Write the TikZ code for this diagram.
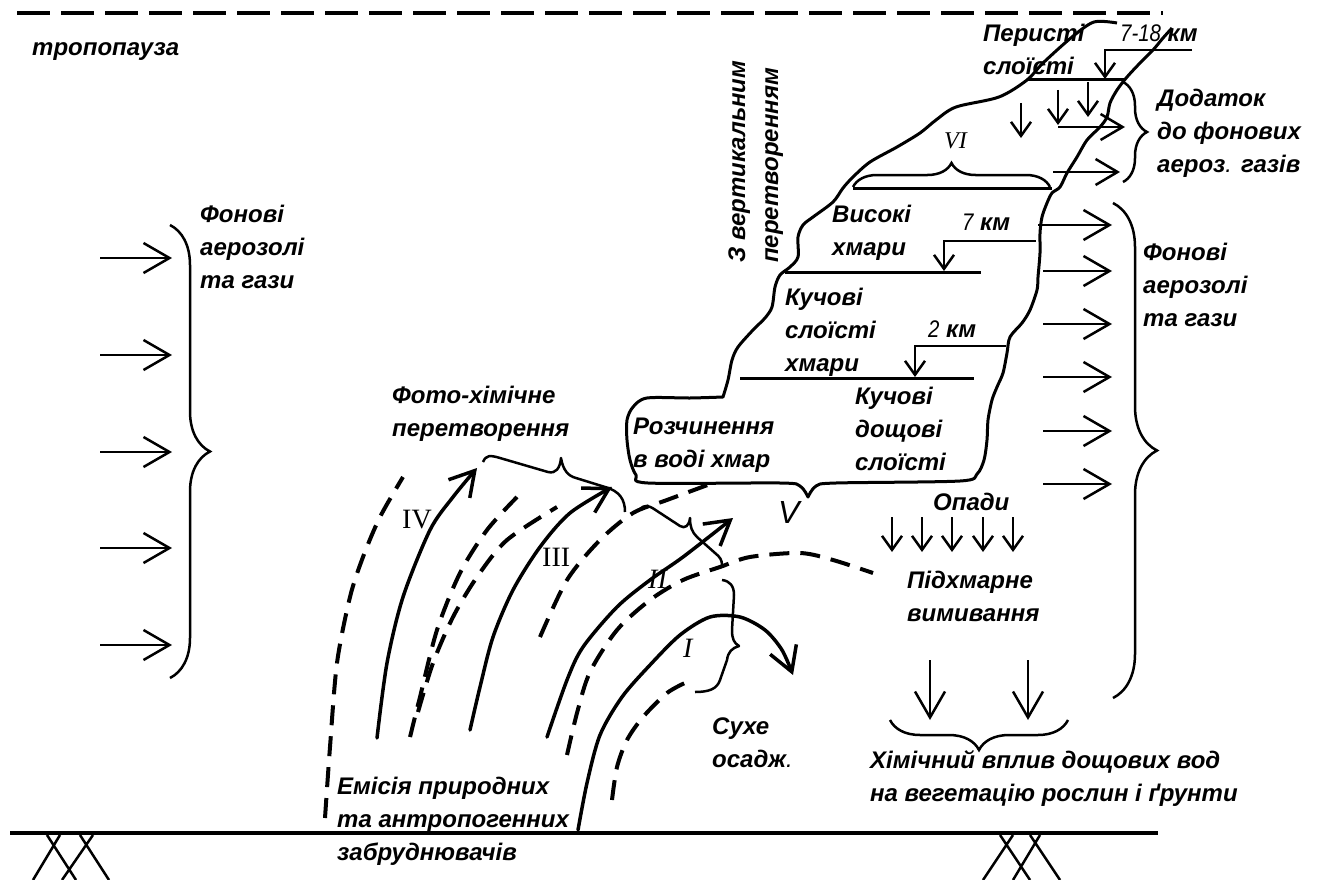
\documentclass[tikz,border=0pt]{standalone}
\usepackage{fontspec}
\setmainfont{Liberation Sans}
\newfontfamily\romfont{Liberation Serif}
\usepackage{tikz}
\usetikzlibrary{arrows.meta, decorations.pathreplacing}

\begin{document}
\begin{tikzpicture}[x=1pt, y=-1pt,
    txt/.style={inner sep=0pt, anchor=base west, align=left,
        font=\fontsize{24}{33}\selectfont\bfseries\itshape},
    rom/.style={inner sep=0pt, anchor=base west,
        font=\fontsize{28}{30}\selectfont\romfont},
    thk/.style={line width=3pt, line join=round},
    arr/.style={line width=2.5pt, -{Straight Barb[length=26pt, width=30pt]}},
    marr/.style={line width=2.5pt, -{Straight Barb[length=22pt, width=26pt]}},
    sarr/.style={line width=2.5pt, -{Straight Barb[length=14pt, width=20pt]}},
    carr/.style={line width=3.5pt, line cap=round, -{Straight Barb[length=24pt, width=28pt]}},
    dsh/.style={line width=4pt, dash pattern=on 20pt off 11pt},
    brc/.style={line width=2.5pt, decorate, decoration={brace, amplitude=#1}},
    lbr/.style={line width=2.5pt, line join=round}]
    \useasboundingbox (0,0) rectangle (1319,880);

    % тропопауза
    \draw[line width=4pt, dash pattern=on 33pt off 11pt] (17,13) -- (1163,13);
    \node[txt] (tropo) at (32,56) {тропопауза};

    % земля
    \draw[line width=4pt] (10,833) -- (1158,833);
    \draw[line width=2.5pt] (33,880) -- (60,835) (47,835) -- (76,880) (62,880) -- (93,835) (80,835) -- (109,880);
    \draw[line width=2.5pt] (983,880) -- (1013,835) (1000,835) -- (1030,880) (1013,880) -- (1040,835) (1030,835) -- (1060,880);

    % фонові аерозолі зліва
    \draw[arr] (100,258) -- (172,258);
    \draw[arr] (100,355) -- (172,355);
    \draw[arr] (100,452) -- (172,452);
    \draw[arr] (100,548) -- (172,548);
    \draw[arr] (100,645) -- (172,645);
    \draw[brc=40pt] (170,225) -- (170,678);
    \node[txt] (fonL) at (200,288) {Фонові\\аерозолі\\та гази};

    % хмара
    \draw[thk] plot[smooth, tension=0.5] coordinates {(1117,23) (1094,22) (1072,37) (1043,63) (1027,80) (999,97) (956,107) (936,120) (920,133) (897,147) (870,162) (853,177) (843,188) (833,202) (813,217) (803,225) (798,237) (798,257) (790,267) (780,275) (775,287) (772,307) (765,318) (753,330) (738,347) (732,360) (728,380) (723,397)}
        -- plot[smooth, tension=0.5] coordinates {(723,397) (690,398) (647,398) (633,407) (627,420) (627,440) (630,460) (636,475) (648,483) (780,483) (800,486) (808,497)}
        -- plot[smooth, tension=0.5] coordinates {(808,497) (816,486) (836,483) (960,481) (977,474) (984,460) (987,440) (988,420) (992,400) (997,387) (1003,373) (1007,353) (1010,337) (1022,323) (1030,310) (1037,290) (1038,277) (1040,253) (1040,233) (1042,217) (1047,203) (1052,193) (1060,187) (1067,173) (1077,157) (1087,140) (1100,127) (1107,117) (1110,103) (1117,90) (1127,77) (1140,63) (1153,50) (1163,38) (1172,28)};

    % шари хмар
    \draw[thk] (785,272) -- (981,272);
    \draw[thk] (740,378) -- (974,378);
    \draw[thk] (853,188) -- (1052,188);
    \draw[thk] (1027,80) -- (1125,80);
    \draw[sarr] (1192,50) -- (1105,50) -- (1105,79);
    \draw[sarr] (1036,241) -- (944,241) -- (944,271);
    \draw[sarr] (1006,346) -- (915,346) -- (915,377);
    \draw[sarr] (1088,82) -- (1088,117);
    \draw[sarr] (1058,90) -- (1058,125);
    \draw[sarr] (1021,103) -- (1021,138);
    \draw[marr] (1058,127) -- (1125,127);
    \draw[marr] (1053,172) -- (1120,172);
    \draw[brc=24pt] (853,187) -- (1050,187);
    \draw[brc=24pt] (1123,82) -- (1123,182);

    \node[txt] (peryst) at (983,75) {Перисті\\слоїсті};
    \node[txt] (km18) at (1120,42) {{\mdseries\scalebox{.85}[1]{7-18}} км};
    \node[txt] (dodat) at (1157,172) {Додаток\\до фонових\\аероз{\mdseries.} газів};
    \node[rom, font=\fontsize{24}{24}\selectfont\romfont\itshape] (rVI) at (944,148) {VI};
    \node[txt] (vys) at (832,255) {Високі\\хмари};
    \node[txt] (km7) at (962,230) {{\mdseries\scalebox{.85}[1]{7}} км};
    \node[txt] (kuchS) at (785,371) {Кучові\\слоїсті\\хмари};
    \node[txt] (km2) at (928,337) {{\mdseries\scalebox{.85}[1]{2}} км};
    \node[txt] (kuchD) at (855,470) {Кучові\\дощові\\слоїсті};
    \node[txt] (rozch) at (633,467) {Розчинення\\в воді хмар};
    \node[txt, rotate=90] (vert) at (778,263) {З вертикальним\\перетворенням};
    \node[inner sep=0pt, anchor=base west, font=\fontsize{32}{32}\selectfont\itshape] (rV) at (778,523) {V};

    % фонові аерозолі справа
    \draw[arr] (1038,225) -- (1112,225);
    \draw[arr] (1043,271) -- (1112,271);
    \draw[arr] (1043,324) -- (1112,324);
    \draw[arr] (1043,377) -- (1112,377);
    \draw[arr] (1043,431) -- (1112,431);
    \draw[arr] (1043,484) -- (1112,484);
    \draw[brc=44pt] (1113,203) -- (1113,698);
    \node[txt] (fonR) at (1143,326) {Фонові\\аерозолі\\та гази};

    % опади
    \node[txt] (opady) at (933,510) {Опади};
    \draw[sarr] (892,517) -- (892,552);
    \draw[sarr] (922,517) -- (922,552);
    \draw[sarr] (952,517) -- (952,552);
    \draw[sarr] (983,517) -- (983,552);
    \draw[sarr] (1013,517) -- (1013,552);
    \node[txt] (pidhm) at (907,621) {Підхмарне\\вимивання};
    \draw[arr] (930,660) -- (930,720);
    \draw[arr] (1028,660) -- (1028,720);
    \draw[brc=30pt] (1068,720) -- (890,720);
    \node[txt] (himv) at (870,801) {Хімічний вплив дощових вод\\на вегетацію рослин і ґрунти};

    % траєкторії домішок
    \draw[dsh] plot[smooth] coordinates {(325,818) (330,747) (337,663) (350,597) (363,557) (380,517) (403,477)};
    \draw[carr] plot[smooth] coordinates {(377,738) (387,663) (403,597) (430,530) (453,497) (477,468)};
    \draw[dsh] plot[smooth] coordinates {(410,737) (420,697) (437,630) (460,573) (487,530) (517,497)};
    \draw[dsh] plot[smooth] coordinates {(418,712) (433,663) (453,617) (477,577) (507,540) (557,507)};
    \draw[carr] plot[smooth] coordinates {(470,730) (480,687) (493,637) (513,590) (540,547) (570,513) (612,487)};
    \draw[dsh] plot[smooth] coordinates {(540,637) (567,580) (600,540) (633,513) (667,500) (713,483)};
    \draw[carr] plot[smooth] coordinates {(547,737) (567,680) (583,647) (617,607) (650,580) (683,557) (733,518)};
    \draw[dsh] plot[smooth] coordinates {(567,755) (577,713) (590,672) (617,630) (650,600) (683,580) (720,567) (750,557) (800,553) (833,560) (873,573)};
    \draw[carr] plot[smooth] coordinates {(578,830) (587,783) (600,735) (622,697) (650,665) (680,635) (710,617) (740,617) (765,630) (782,650) (793,675)};
    \draw[dsh] plot[smooth] coordinates {(612,800) (617,767) (627,740) (643,717) (667,693) (687,682)};

    % дужки між траєкторіями
    \draw[lbr] (483,462) .. controls (486,455) and (490,455) .. (500,458) -- (548,472) .. controls (556,474) and (560,468) .. (561,458) .. controls (563,470) and (568,476) .. (576,478) -- (605,487) .. controls (620,491) and (625,500) .. (625,512);
    \draw[lbr] (640,509) .. controls (644,505) and (648,505) .. (654,509) -- (680,526) .. controls (685,529) and (689,526) .. (690,518) .. controls (690,527) and (692,532) .. (697,537) -- (715,553) .. controls (720,557) and (722,560) .. (722,565);
    \draw[lbr] (722,580) .. controls (730,581) and (734,586) .. (734,595) -- (732,630) .. controls (732,639) and (734,643) .. (739,646) .. controls (732,648) and (728,652) .. (727,660) -- (720,680) .. controls (717,689) and (709,692) .. (695,692);

    \node[rom] (rIV) at (402,528) {IV};
    \node[rom] (rIII) at (542,566) {III};
    \node[rom, font=\fontsize{28}{30}\selectfont\romfont\itshape] (rII) at (648,588) {II};
    \node[rom, font=\fontsize{28}{30}\selectfont\romfont\itshape] (rI) at (683,657) {I};

    \node[txt] (foto) at (392,436) {Фото-хімічне\\перетворення};
    \node[txt] (suhe) at (712,767) {Сухе\\осадж{\mdseries.}};
    \node[txt] (emis) at (337,860) {Емісія природних\\та антропогенних\\забруднювачів};
\end{tikzpicture}
\end{document}
